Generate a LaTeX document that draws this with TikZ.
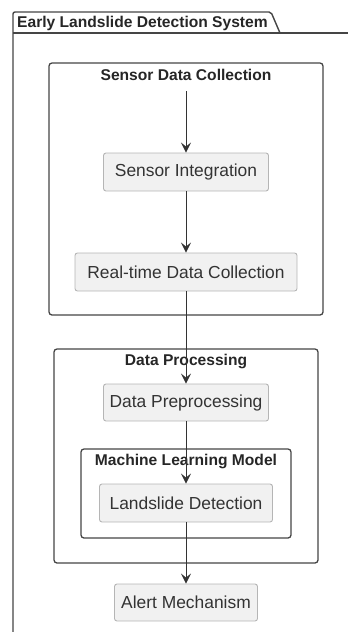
\documentclass[tikz,border=0pt]{standalone}
\usepackage{fontspec}
\setmainfont{Liberation Sans}
\usetikzlibrary{arrows.meta}
\definecolor{nodefill}{HTML}{F1F1F1}
\definecolor{nodeline}{HTML}{B5B5B5}
\definecolor{txt}{HTML}{333333}
\definecolor{frameline}{HTML}{454545}
\tikzset{
  proc/.style={draw=nodeline, fill=nodefill, rounded corners=2.5pt, line width=0.9pt,
    text=txt, font=\fontsize{17.4}{20}\selectfont, inner sep=0pt},
  frame/.style={draw=frameline, rounded corners=3pt, line width=1.3pt},
  ftitle/.style={font=\fontsize{15.6}{18}\selectfont\bfseries, text=black!85, inner sep=0pt},
  flow/.style={draw=black!80, line width=0.9pt, -{Stealth[length=10pt,width=10pt,inset=4pt]}}
}
\begin{document}
\begin{tikzpicture}[x=1pt,y=-1pt]
\useasboundingbox (0,0) rectangle (348,632);
% outer package
\draw[frameline, line width=1.4pt, rounded corners=2pt] (13,640) -- (13,12) -- (271,12) -- (280,33);
\draw[frameline, line width=1.4pt] (13,33) -- (350,33);
\node[ftitle, anchor=west] (pkg) at (17,23) {Early Landslide Detection System};
% frames
\draw[frame] (49,63) rectangle (323,315);
\node[ftitle] (t1) at (186,75) {Sensor Data Collection};
\draw[frame] (54,349) rectangle (318,563);
\node[ftitle] (t2) at (186,361) {Data Processing};
\draw[frame] (81,449) rectangle (291,538);
\node[ftitle] (t3) at (186,461) {Machine Learning Model};
% nodes
\coordinate (start) at (186,91);
\node[proc, minimum width=165pt, minimum height=38pt] (si) at (186,172) {Sensor Integration};
\node[proc, minimum width=222pt, minimum height=38pt] (rdc) at (186,272) {Real-time Data Collection};
\node[proc, minimum width=165pt, minimum height=37pt] (dp) at (186,402.5) {Data Preprocessing};
\node[proc, minimum width=173pt, minimum height=38pt] (ld) at (186,503) {Landslide Detection};
\node[proc, minimum width=143pt, minimum height=37pt] (am) at (186,602.5) {Alert Mechanism};
% connectors
\draw[flow] (start) -- (si.north);
\draw[flow] (si.south) -- (rdc.north);
\draw[flow] (rdc.south) -- (dp.north);
\draw[flow] (dp.south) -- (ld.north);
\draw[flow] (ld.south) -- (am.north);
\end{tikzpicture}
\end{document}
